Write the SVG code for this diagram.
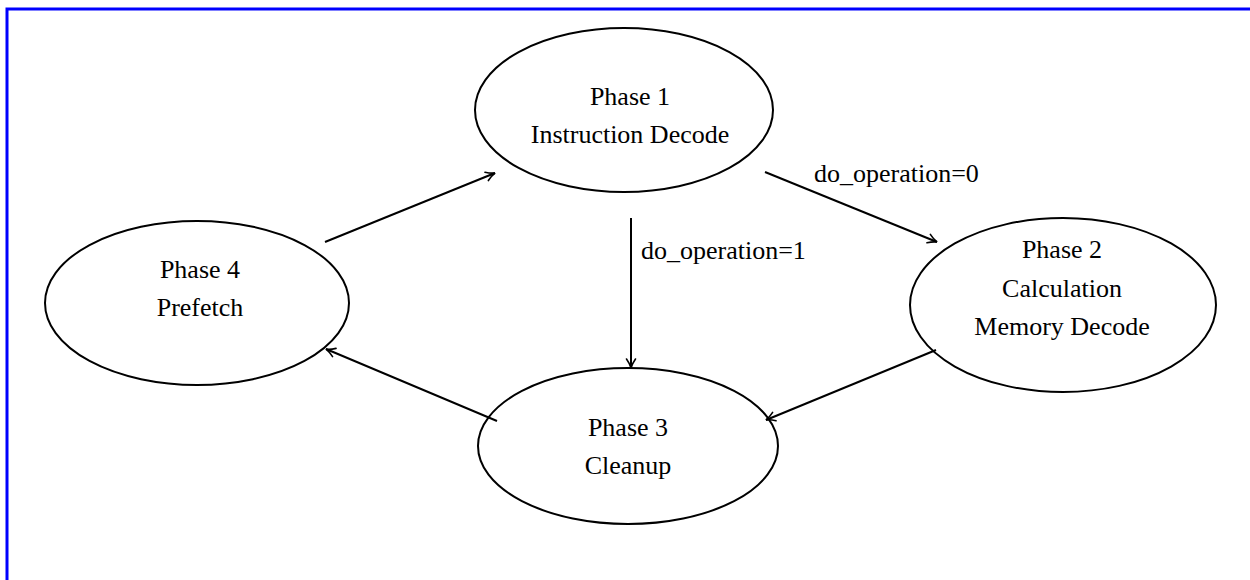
<svg xmlns="http://www.w3.org/2000/svg" width="1250" height="580" viewBox="0 0 1250 580">
<style>
.node{fill:none;stroke:#000;stroke-width:2}
.t{font-family:"Liberation Serif","Times New Roman",serif;font-size:26px;fill:#000;text-anchor:middle}
.lbl{font-family:"Liberation Serif","Times New Roman",serif;font-size:26px;fill:#000}
.edge{stroke:#000;stroke-width:2;fill:none;marker-end:url(#ah)}
</style>
<defs>
<marker id="ah" markerUnits="userSpaceOnUse" markerWidth="14" markerHeight="14" viewBox="-12 -7 14 14" refX="0" refY="0" orient="auto">
<path d="M -9 -4.5 Q -4 -1 0 0 Q -4 1 -9 4.5" fill="none" stroke="#000" stroke-width="1.6" stroke-linecap="round"/>
</marker>
</defs>
<rect x="7" y="9" width="1300" height="640" fill="none" stroke="#0000ff" stroke-width="3"/>
<g id="phase1">
<ellipse class="node" cx="624" cy="110" rx="149" ry="82"/>
<text class="t" x="630" y="105">Phase 1</text>
<text class="t" x="630" y="143">Instruction Decode</text>
</g>
<g id="phase2">
<ellipse class="node" cx="1063" cy="305" rx="153" ry="87"/>
<text class="t" x="1062" y="258">Phase 2</text>
<text class="t" x="1062" y="297">Calculation</text>
<text class="t" x="1062" y="335">Memory Decode</text>
</g>
<g id="phase3">
<ellipse class="node" cx="628" cy="446" rx="150" ry="78"/>
<text class="t" x="628" y="436">Phase 3</text>
<text class="t" x="628" y="474">Cleanup</text>
</g>
<g id="phase4">
<ellipse class="node" cx="197" cy="303" rx="152" ry="82"/>
<text class="t" x="200" y="278">Phase 4</text>
<text class="t" x="200" y="316">Prefetch</text>
</g>
<g id="edges">
<line class="edge" x1="325" y1="242" x2="495" y2="173"/>
<line class="edge" x1="765" y1="172" x2="937" y2="242"/>
<line class="edge" x1="631" y1="218" x2="631" y2="368"/>
<line class="edge" x1="936" y1="350" x2="766" y2="420"/>
<line class="edge" x1="497" y1="421" x2="326" y2="349"/>
<text class="lbl" x="814" y="182">do_operation=0</text>
<text class="lbl" x="641" y="259">do_operation=1</text>
</g>
</svg>
